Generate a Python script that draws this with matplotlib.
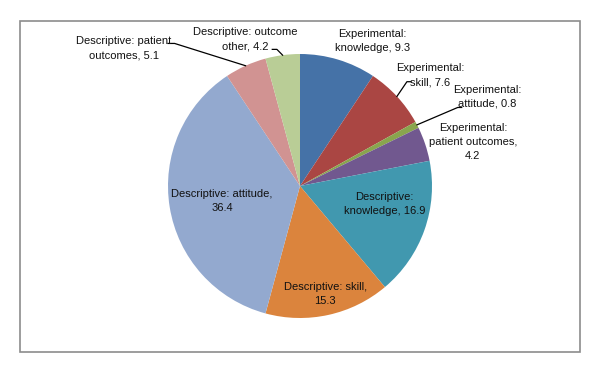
import numpy as np
import matplotlib
matplotlib.use('Agg')
import matplotlib.pyplot as plt
from matplotlib.patches import Rectangle

labels = ['Experimental:\nknowledge, 9.3', 'Experimental:\nskill, 7.6', 'Experimental:\nattitude, 0.8',
          'Experimental:\npatient outcomes,\n4.2', 'Descriptive:\nknowledge, 16.9', 'Descriptive: skill,\n15.3',
          'Descriptive: attitude,\n36.4', 'Descriptive: patient\noutcomes, 5.1', 'Descriptive: outcome\nother, 4.2']
values = [9.3, 7.6, 0.8, 4.2, 16.9, 15.3, 36.4, 5.1, 4.2]
colors = ['#4572A7', '#AA4643', '#89A54E', '#71588F', '#4198AF', '#DB843D', '#93A9CF', '#D19392', '#B9CD96']

# label centres in pie units (radius = 1)
text_pos = [(0.55, 1.10), (0.985, 0.84), (1.42, 0.675), (1.31, 0.33), (0.64, -0.135),
            (0.19, -0.82), (-0.59, -0.115), (-1.335, 1.045), (-0.415, 1.11)]
# leader lines: elbow + end next to the text (None = no line)
leaders = {1: [(0.81, 0.79), (0.84, 0.79)],
           2: [(1.195, 0.595), (1.225, 0.595)],
           7: [(-0.95, 1.08), (-1.0, 1.08)],
           8: [(-0.175, 1.035), (-0.21, 1.035)]}

plt.rcParams['font.family'] = ['Liberation Sans', 'DejaVu Sans']

fig = plt.figure(figsize=(6, 3.7), dpi=100)
fig.patches.append(Rectangle((20/600, 1-352/370), 560/600, 331/370, transform=fig.transFigure,
                             fill=False, edgecolor='#8c8c8c', linewidth=1.2))

ax = fig.add_axes([(300-132)/600, 1-(186+132)/370, 264/600, 264/370])
wedges, _ = ax.pie(values, colors=colors, startangle=90, counterclock=False,
                   wedgeprops=dict(linewidth=0))
ax.set_xlim(-1, 1)
ax.set_ylim(-1, 1)
ax.set_aspect('equal')

for i, w in enumerate(wedges):
    ax.text(text_pos[i][0], text_pos[i][1], labels[i], ha='center', va='center',
            fontsize=8, color='#111111', linespacing=1.5, clip_on=False)
    if i in leaders:
        ang = np.deg2rad((w.theta1 + w.theta2) / 2)
        pts = [(np.cos(ang), np.sin(ang))] + leaders[i]
        xs, ys = zip(*pts)
        ax.plot(xs, ys, color='black', linewidth=0.9, clip_on=False)

fig.savefig('out.png', dpi=100)
